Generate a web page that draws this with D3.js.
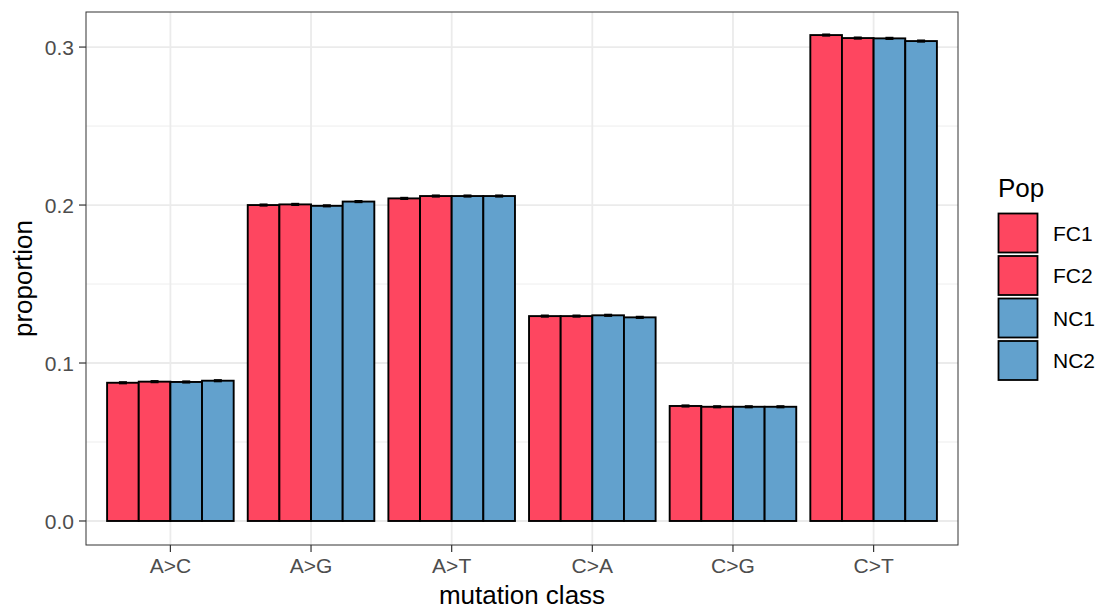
<!DOCTYPE html>
<html>
<head>
<meta charset="utf-8">
<script src="https://cdn.jsdelivr.net/npm/d3@7"></script>
<style>
  body { margin: 0; background: #fff; }
  svg { font-family: "Liberation Sans", Arial, sans-serif; }
</style>
</head>
<body>
<div id="chart"></div>
<script>
// mutation classes and populations
const classes = ['A>C', 'A>G', 'A>T', 'C>A', 'C>G', 'C>T'];
const pops = ['FC1', 'FC2', 'NC1', 'NC2'];

// proportion per class, one array per population
const fc1 = [0.0875, 0.2000, 0.2042, 0.1297, 0.0728, 0.3076];
const fc2 = [0.0882, 0.2004, 0.2057, 0.1297, 0.0723, 0.3057];
const nc1 = [0.0880, 0.1995, 0.2057, 0.1302, 0.0723, 0.3055];
const nc2 = [0.0888, 0.2022, 0.2057, 0.1289, 0.0723, 0.3038];
const se = [0.0005, 0.0005, 0.0005, 0.0005, 0.0005, 0.0005];

const yTicks = [0.0, 0.1, 0.2, 0.3];
const yMinor = [0.05, 0.15, 0.25];

const POP_COLORS = { FC1: '#fe4660', FC2: '#fe4660', NC1: '#62a1cd', NC2: '#62a1cd' };

const seriesByPop = { FC1: fc1, FC2: fc2, NC1: nc1, NC2: nc2 };
const rows = [];
classes.forEach((c, i) => {
  pops.forEach(p => rows.push({ cls: c, pop: p, value: seriesByPop[p][i], se: se[i] }));
});

const width = 1100, height = 610;
const panel = { left: 86, right: 958, top: 12, bottom: 545 };

const svg = d3.select('#chart').append('svg')
  .attr('width', width)
  .attr('height', height);

// discrete x like ggplot: 1 unit per class, 0.6 expansion each side, bars 0.9 wide
const x = d3.scalePoint()
  .domain(classes)
  .range([panel.left, panel.right])
  .padding(0.6);
const unit = x.step();
const xInner = d3.scaleBand().domain(pops).range([-0.45 * unit, 0.45 * unit]);

const y = d3.scaleLinear()
  .domain([-0.0152, 0.3222])
  .range([panel.bottom, panel.top]);

// grid
const grid = svg.append('g');
grid.selectAll('.minor')
  .data(yMinor)
  .join('line')
  .attr('x1', panel.left).attr('x2', panel.right)
  .attr('y1', d => y(d)).attr('y2', d => y(d))
  .attr('stroke', '#ebebeb').attr('stroke-width', 0.9);
grid.selectAll('.major')
  .data(yTicks)
  .join('line')
  .attr('x1', panel.left).attr('x2', panel.right)
  .attr('y1', d => y(d)).attr('y2', d => y(d))
  .attr('stroke', '#ebebeb').attr('stroke-width', 1.8);
grid.selectAll('.vmajor')
  .data(classes)
  .join('line')
  .attr('x1', d => x(d)).attr('x2', d => x(d))
  .attr('y1', panel.top).attr('y2', panel.bottom)
  .attr('stroke', '#ebebeb').attr('stroke-width', 1.8);

// bars
svg.append('g')
  .selectAll('rect')
  .data(rows)
  .join('rect')
  .attr('x', d => x(d.cls) + xInner(d.pop))
  .attr('width', xInner.bandwidth())
  .attr('y', d => y(d.value))
  .attr('height', d => y(0) - y(d.value))
  .attr('fill', d => POP_COLORS[d.pop])
  .attr('stroke', '#000')
  .attr('stroke-width', 1.9);

// error bars
const eb = svg.append('g').attr('stroke', '#000').attr('stroke-width', 1.6);
const ebHalf = 4;
rows.forEach(d => {
  const mx = x(d.cls) + xInner(d.pop) + xInner.bandwidth() / 2;
  const y1 = y(d.value + d.se), y2 = y(d.value - d.se);
  eb.append('line').attr('x1', mx - ebHalf).attr('x2', mx + ebHalf).attr('y1', y1).attr('y2', y1);
  eb.append('line').attr('x1', mx - ebHalf).attr('x2', mx + ebHalf).attr('y1', y2).attr('y2', y2);
  eb.append('line').attr('x1', mx).attr('x2', mx).attr('y1', y1).attr('y2', y2);
});

// panel border
svg.append('rect')
  .attr('x', panel.left).attr('y', panel.top)
  .attr('width', panel.right - panel.left)
  .attr('height', panel.bottom - panel.top)
  .attr('fill', 'none')
  .attr('stroke', '#333').attr('stroke-width', 1);

// y axis
const yAxis = svg.append('g');
yAxis.selectAll('line')
  .data(yTicks)
  .join('line')
  .attr('x1', panel.left - 7).attr('x2', panel.left)
  .attr('y1', d => y(d)).attr('y2', d => y(d))
  .attr('stroke', '#333').attr('stroke-width', 1.2);
yAxis.selectAll('text')
  .data(yTicks)
  .join('text')
  .attr('x', panel.left - 12)
  .attr('y', d => y(d))
  .attr('dy', '0.36em')
  .attr('text-anchor', 'end')
  .attr('font-size', 21)
  .attr('fill', '#4d4d4d')
  .text(d => d3.format('.1f')(d));

// x axis
const xAxis = svg.append('g');
xAxis.selectAll('line')
  .data(classes)
  .join('line')
  .attr('x1', d => x(d)).attr('x2', d => x(d))
  .attr('y1', panel.bottom).attr('y2', panel.bottom + 7)
  .attr('stroke', '#333').attr('stroke-width', 1.2);
xAxis.selectAll('text')
  .data(classes)
  .join('text')
  .attr('x', d => x(d))
  .attr('y', 573)
  .attr('text-anchor', 'middle')
  .attr('font-size', 21)
  .attr('fill', '#4d4d4d')
  .text(d => d);

// axis titles
svg.append('text')
  .attr('x', (panel.left + panel.right) / 2)
  .attr('y', 604)
  .attr('text-anchor', 'middle')
  .attr('font-size', 26)
  .attr('fill', '#000')
  .text('mutation class');
svg.append('text')
  .attr('transform', `translate(32,${(panel.top + panel.bottom) / 2}) rotate(-90)`)
  .attr('text-anchor', 'middle')
  .attr('font-size', 26)
  .attr('fill', '#000')
  .text('proportion');

// legend
const legend = svg.append('g').attr('transform', 'translate(998,213)');
legend.append('text')
  .attr('x', 0).attr('y', -16)
  .attr('font-size', 26)
  .text('Pop');
const key = legend.selectAll('g')
  .data(pops)
  .join('g')
  .attr('transform', (d, i) => `translate(0,${i * 42.5})`);
key.append('rect')
  .attr('x', 0.5).attr('y', 0.5)
  .attr('width', 39).attr('height', 39)
  .attr('fill', d => POP_COLORS[d])
  .attr('stroke', '#000')
  .attr('stroke-width', 1.8);
key.append('text')
  .attr('x', 55).attr('y', 20)
  .attr('dy', '0.36em')
  .attr('font-size', 21)
  .text(d => d);
</script>
</body>
</html>
